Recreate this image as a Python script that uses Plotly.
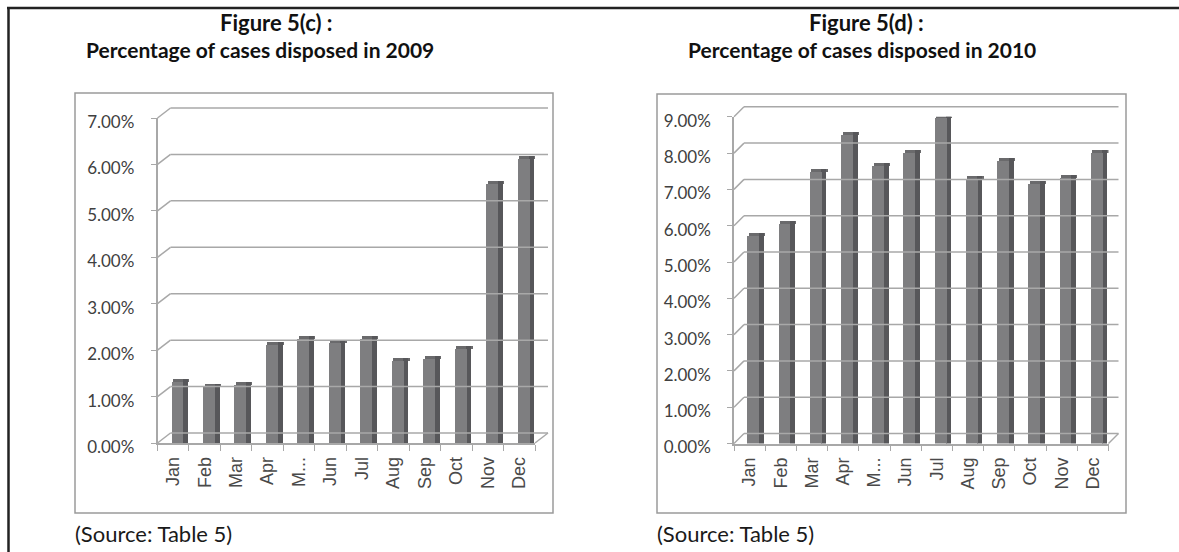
import plotly.graph_objects as go

W, H = 1179, 552

months = ["Jan", "Feb", "Mar", "Apr", "May", "Jun", "Jul", "Aug", "Sep", "Oct", "Nov", "Dec"]
month_labels = ["Jan", "Feb", "Mar", "Apr", "M...", "Jun", "Jul", "Aug", "Sep", "Oct", "Nov", "Dec"]
pct_2009 = [1.31, 1.20, 1.25, 2.11, 2.24, 2.15, 2.23, 1.77, 1.80, 2.03, 5.58, 6.11]
pct_2010 = [5.72, 6.05, 7.48, 8.50, 7.64, 8.02, 8.96, 7.30, 7.80, 7.16, 7.33, 8.00]
ticks_2009 = [0, 1, 2, 3, 4, 5, 6, 7]
ticks_2010 = [0, 1, 2, 3, 4, 5, 6, 7, 8, 9]
title_2009 = ["Figure 5(c) :", "Percentage of cases disposed in 2009"]
title_2010 = ["Figure 5(d) :", "Percentage of cases disposed in 2010"]
source_text = "(Source: Table 5)"


def X(px):
    return px / W


def Y(py):
    return 1 - py / H


# panel geometry in pixels
panels = [
    dict(vals=pct_2009, ticks=ticks_2009, ymax=7, title=title_2009,
         box=(75, 93, 553, 513), xpx=(157.5, 535), ypx=(443, 118), dx=13, dy=10,
         tcx=(276, 260), xa="x", ya="y", xl="xaxis", yl="yaxis"),
    dict(vals=pct_2010, ticks=ticks_2010, ymax=9, title=title_2010,
         box=(657, 94, 1126, 513), xpx=(734, 1108.5), ypx=(443.5, 116.8), dx=10, dy=10,
         tcx=(866, 862), xa="x2", ya="y2", xl="xaxis2", yl="yaxis2"),
]

FRONT = "#7e7e80"
SIDE = "#57575a"
TOP = "#6a6a6c"
GRID = "#a8a8a8"
TXT = "#404040"

fig = go.Figure()
shapes = []
annotations = []

for p in panels:
    x0, x1 = p["xpx"]
    yb, yt = p["ypx"]
    scale = (yb - yt) / p["ymax"]
    dv = 3.0 / scale  # 3 px cap for 3-D look

    def ypix(v, yb=yb, scale=scale):
        return yb - v * scale

    vals = p["vals"]
    # top cap
    fig.add_trace(go.Bar(x=months, y=[dv] * 12, base=vals, offset=-0.02, width=0.52,
                         marker=dict(color=TOP, line=dict(width=0)),
                         xaxis=p["xa"], yaxis=p["ya"], hoverinfo="skip", showlegend=False))
    # side face
    fig.add_trace(go.Bar(x=months, y=[v + dv for v in vals], offset=0.3, width=0.16,
                         marker=dict(color=SIDE, line=dict(width=0)),
                         xaxis=p["xa"], yaxis=p["ya"], hoverinfo="skip", showlegend=False))
    # front face
    fig.add_trace(go.Bar(x=months, y=vals, offset=-0.07, width=0.38,
                         marker=dict(color=FRONT, line=dict(width=0)),
                         xaxis=p["xa"], yaxis=p["ya"], showlegend=False,
                         hovertemplate="%{x}: %{y:.2f}%<extra></extra>"))

    fig.update_layout(**{
        p["xl"]: dict(domain=[X(x0), X(x1)], range=[-0.5, 11.5], anchor=p["ya"],
                      tickmode="array", tickvals=months, ticktext=month_labels,
                      tickangle=-90, tickson="boundaries", ticks="outside", ticklen=6,
                      tickcolor=GRID, showline=True, linecolor=GRID, linewidth=1.5,
                      showgrid=False, zeroline=False, ticklabelstandoff=5, automargin=False,
                      tickfont=dict(family="Liberation Sans", size=18, color="#4a4a4a")),
        p["yl"]: dict(domain=[Y(yb), Y(yt)], range=[0, p["ymax"]], anchor=p["xa"],
                      tickmode="array", tickvals=p["ticks"],
                      ticktext=[f"{t:.2f}%" for t in p["ticks"]],
                      ticks="outside", ticklen=5, tickcolor=GRID, showline=True,
                      linecolor=GRID, linewidth=1.5, showgrid=False, zeroline=False,
                      ticklabelstandoff=13, ticklabelshift=4, automargin=False,
                      tickfont=dict(family="Lato", size=17, color=TXT)),
    })

    dx, dy = p["dx"], p["dy"]
    # back-wall gridlines with diagonal connectors
    for t in p["ticks"]:
        yy = ypix(t)
        shapes.append(dict(type="line", xref="paper", yref="paper",
                           x0=X(x0), y0=Y(yy), x1=X(x0 + dx), y1=Y(yy - dy),
                           line=dict(color=GRID, width=1.5)))
        shapes.append(dict(type="line", xref="paper", yref="paper",
                           x0=X(x0 + dx), y0=Y(yy - dy), x1=X(x1 + dx), y1=Y(yy - dy),
                           line=dict(color=GRID, width=1.5)))
    # floor right diagonal
    shapes.append(dict(type="line", xref="paper", yref="paper",
                       x0=X(x1), y0=Y(yb), x1=X(x1 + dx), y1=Y(yb - dy),
                       line=dict(color=GRID, width=1.5)))
    # chart box
    bx0, by0, bx1, by1 = p["box"]
    shapes.append(dict(type="rect", xref="paper", yref="paper",
                       x0=X(bx0), y0=Y(by1), x1=X(bx1), y1=Y(by0),
                       line=dict(color="#9a9a9a", width=1.5), layer="below"))
    # titles
    annotations.append(dict(text=f"<b>{p['title'][0]}</b>", x=X(p["tcx"][0]), y=Y(23),
                            xref="paper", yref="paper", showarrow=False,
                            xanchor="center", yanchor="middle",
                            font=dict(family="Lato", size=22, color="#111111")))
    annotations.append(dict(text=f"<b>{p['title'][1]}</b>", x=X(p["tcx"][1]), y=Y(50),
                            xref="paper", yref="paper", showarrow=False,
                            xanchor="center", yanchor="middle",
                            font=dict(family="Lato", size=21, color="#111111")))
    annotations.append(dict(text=source_text, x=X(bx0 - 2), y=Y(533),
                            xref="paper", yref="paper", showarrow=False,
                            xanchor="left", yanchor="middle",
                            font=dict(family="Lato", size=22, color="#1a1a1a")))

# outer frame lines
shapes.append(dict(type="line", xref="paper", yref="paper", x0=X(7), y0=Y(8), x1=X(1179), y1=Y(8),
                   line=dict(color="#222222", width=2.5)))
shapes.append(dict(type="line", xref="paper", yref="paper", x0=X(8.5), y0=Y(7), x1=X(8.5), y1=Y(552),
                   line=dict(color="#222222", width=2.5)))

fig.update_layout(width=W, height=H, margin=dict(l=0, r=0, t=0, b=0, autoexpand=False),
                  paper_bgcolor="white", plot_bgcolor="rgba(0,0,0,0)",
                  barmode="overlay", bargap=0, shapes=shapes, annotations=annotations,
                  showlegend=False)

fig.write_html("out.html", config={"displayModeBar": False},
               post_script="document.body.style.margin='0px';document.body.style.overflow='hidden';")
